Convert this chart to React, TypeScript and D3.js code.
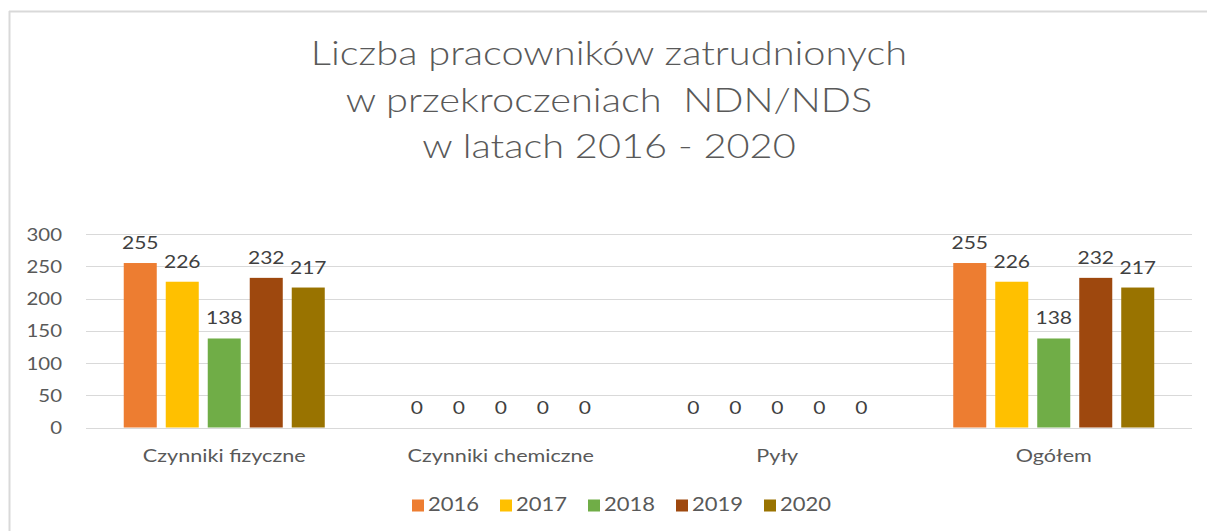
import React from "react";
import * as d3 from "d3";

const categories = ["Czynniki fizyczne", "Czynniki chemiczne", "Pyły", "Ogółem"];
const years = ["2016", "2017", "2018", "2019", "2020"];
const values2016 = [255, 0, 0, 255];
const values2017 = [226, 0, 0, 226];
const values2018 = [138, 0, 0, 138];
const values2019 = [232, 0, 0, 232];
const values2020 = [217, 0, 0, 217];
const yTicks = [0, 50, 100, 150, 200, 250, 300];
const titleLines = ["Liczba pracowników zatrudnionych", "w przekroczeniach  NDN/NDS", "w latach 2016 - 2020"];

const seriesValues = [values2016, values2017, values2018, values2019, values2020];
const colors = ["#ED7D31", "#FFC000", "#70AD47", "#9E480E", "#997300"];

const W = 1207;
const H = 531;
const FONT = "Lato, 'Open Sans', sans-serif";

function SText(props: {
  x: number;
  y: number;
  sx: number;
  size: number;
  fill: string;
  anchor?: string;
  weight?: number;
  children: React.ReactNode;
}) {
  return (
    <text
      transform={`translate(${props.x},${props.y}) scale(${props.sx},1)`}
      textAnchor={props.anchor || "start"}
      fontFamily={FONT}
      fontSize={props.size}
      fontWeight={props.weight || 400}
      fill={props.fill}
      style={{ whiteSpace: "pre" }}
    >
      {props.children}
    </text>
  );
}

export default function App() {
  const x = d3.scaleBand<string>().domain(categories).range([86, 1192]).paddingInner(0).paddingOuter(0);
  const inner = d3.scaleBand<string>().domain(years).range([-105, 105]).paddingInner(0.214).paddingOuter(0.107);
  const y = d3.scaleLinear().domain([0, 300]).range([427.5, 234]);

  const legendX = d3.scaleBand<string>().domain(years).range([412, 852]);

  return (
    <svg width={W} height={H} style={{ position: "absolute", left: 0, top: 0, background: "#fff" }}>
      <rect x={0} y={0} width={W} height={H} fill="#fff" />
      <line x1={9.5} y1={11} x2={9.5} y2={H} stroke="#d9d9d9" strokeWidth={2} />
      <line x1={9} y1={11.5} x2={W} y2={11.5} stroke="#d9d9d9" strokeWidth={2} />

      {titleLines.map((t, i) => (
        <SText key={i} x={609} y={65 + i * 46.5} sx={1.17} size={34} weight={300} fill="#595959" anchor="middle">
          {t}
        </SText>
      ))}

      {yTicks.map((t) => (
        <g key={t}>
          <line x1={86} x2={1192} y1={Math.round(y(t)) + 0.5} y2={Math.round(y(t)) + 0.5} stroke="#d9d9d9" strokeWidth={1} />
          <SText x={62} y={y(t) + 6.5} sx={1.2} size={17} fill="#595959" anchor="end">
            {t}
          </SText>
        </g>
      ))}

      {categories.map((c, ci) => {
        const cx = (x(c) as number) + x.bandwidth() / 2;
        return (
          <g key={c}>
            {years.map((yr, si) => {
              const v = seriesValues[si][ci];
              const bx = cx + (inner(yr) as number);
              return (
                <g key={yr}>
                  <rect x={bx} y={y(v)} width={inner.bandwidth()} height={y(0) - y(v)} fill={colors[si]} />
                  <SText x={bx + inner.bandwidth() / 2} y={y(v) - 14} sx={1.17} size={18} fill="#404040" anchor="middle">
                    {v}
                  </SText>
                </g>
              );
            })}
            <SText x={cx} y={462} sx={1.2} size={18} fill="#595959" anchor="middle">
              {c}
            </SText>
          </g>
        );
      })}

      {years.map((yr, si) => {
        const lx = legendX(yr) as number;
        return (
          <g key={yr}>
            <rect x={lx} y={499.5} width={12} height={12} fill={colors[si]} />
            <SText x={lx + 16} y={511} sx={1.1} size={20} fill="#595959">
              {yr}
            </SText>
          </g>
        );
      })}
    </svg>
  );
}
